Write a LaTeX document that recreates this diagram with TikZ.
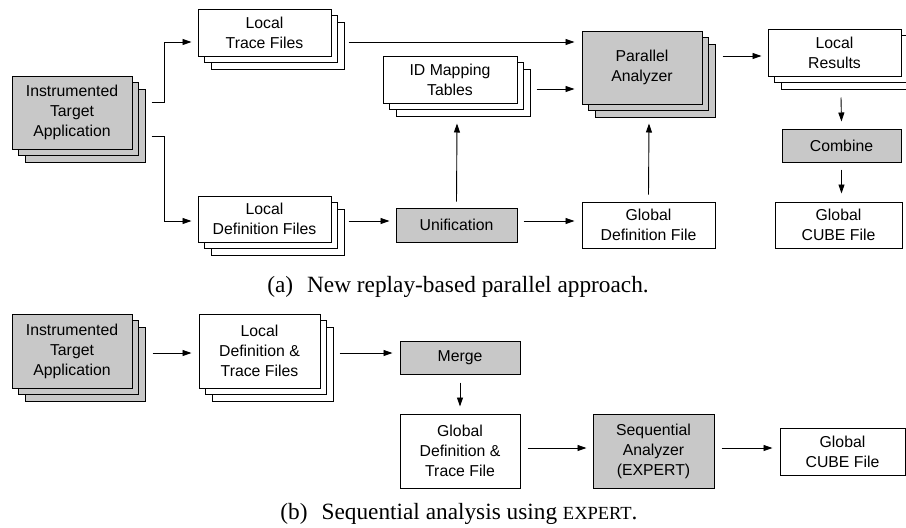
\documentclass[tikz,border=0pt]{standalone}
\usepackage{fontspec}
\setmainfont{Liberation Serif}
\setsansfont{Liberation Sans}
\usepackage{tikz}
\usetikzlibrary{positioning,arrows.meta,shadows}
\definecolor{boxgray}{RGB}{200,200,200}
\newcommand{\fakesc}[1]{{\fontsize{18.5}{20}\selectfont #1}}
\tikzset{
filebox/.style={draw, fill=white, line width=1pt, inner sep=0pt, align=center,
  font=\sffamily\fontsize{15.8}{20}\selectfont},
procbox/.style={filebox, fill=boxgray},
stackbox/.style={copy shadow={shadow xshift=13pt, shadow yshift=-13pt},
  copy shadow={shadow xshift=6.5pt, shadow yshift=-6.5pt}},
flow/.style={-{Triangle[length=9pt,width=6pt]}, line width=0.9pt},
caption/.style={anchor=base, font=\fontsize{23.3}{26}\selectfont}
}

\begin{document}
\begin{tikzpicture}[x=1pt,y=-1pt]
\useasboundingbox (0,0) rectangle (906,528);
% (a) replay-based parallel approach
\node[procbox,stackbox,minimum width=120pt,minimum height=73pt] (app) at (72,112.5) {Instrumented\\Target\\Application};
\node[filebox,stackbox,minimum width=133pt,minimum height=47pt] (trace) at (264.5,32.5) {Local\\Trace Files};
\node[filebox,stackbox,minimum width=133pt,minimum height=46pt] (ldef) at (264.5,219) {Local\\Definition Files};
\node[filebox,stackbox,minimum width=134pt,minimum height=47pt] (idmap) at (450,79.5) {ID Mapping\\Tables};
\node[procbox,minimum width=121pt,minimum height=34pt] (unif) at (456.5,225) {Unification};
\node[procbox,stackbox,minimum width=120pt,minimum height=73pt] (par) at (642,67.5) {Parallel\\Analyzer};
\node[filebox,minimum width=133pt,minimum height=46pt] (gdef) at (648.5,225) {Global\\Definition File};
\node[filebox,stackbox,minimum width=133pt,minimum height=47pt] (lres) at (834.5,52.5) {Local\\Results};
\node[procbox,minimum width=119pt,minimum height=33pt] (comb) at (841.5,145.5) {Combine};
\node[filebox,minimum width=127pt,minimum height=46pt] (gcube) at (838.5,225) {Global\\CUBE File};

\draw[flow] ([xshift=19pt,yshift=10.5pt]app.east) -- ++(13,0) |- ([xshift=-6pt,yshift=-9.5pt]trace.west);
\draw[flow] ([xshift=19pt,yshift=-23.5pt]app.east) -- ++(13,0) |- ([xshift=-6pt,yshift=-2pt]ldef.west);
\draw[flow] ([xshift=17pt,yshift=-9.5pt]trace.east) -- ([xshift=-7pt,yshift=25.5pt]par.west);
\draw[flow] ([xshift=19pt,yshift=-9.5pt]idmap.east) -- ([xshift=-7pt,yshift=-21.5pt]par.west);
\draw[flow] ([xshift=17pt,yshift=-2pt]ldef.east) -- ([xshift=-6pt,yshift=4pt]unif.west);
\draw[flow] ([yshift=6pt]unif.north) -- ([xshift=7pt,yshift=-20pt]idmap.south);
\draw[flow] ([xshift=6pt,yshift=4pt]unif.east) -- ([xshift=-7pt,yshift=4pt]gdef.west);
\draw[flow] ([yshift=7pt]gdef.north) -- ([xshift=7pt,yshift=-19pt]par.south);
\draw[flow] ([xshift=20pt,yshift=11.5pt]par.east) -- ([xshift=-6pt,yshift=-3.5pt]lres.west);
\draw[flow] ([xshift=6.5pt,yshift=-21pt]lres.south) -- ([yshift=7pt]comb.north);
\draw[flow] ([yshift=-7pt]comb.south) -- ([xshift=3pt,yshift=8pt]gcube.north);

\node[caption] (capa) at (458,292) {(a)\hspace{0.6em}New replay-based parallel approach.};

% (b) sequential analysis
\node[procbox,stackbox,minimum width=120pt,minimum height=74pt] (app2) at (72,351) {Instrumented\\Target\\Application};
\node[filebox,stackbox,minimum width=121pt,minimum height=74pt] (ldt) at (259.5,351) {Local\\Definition \&\\Trace Files};
\node[procbox,minimum width=120pt,minimum height=33pt] (merge) at (460,357.5) {Merge};
\node[filebox,minimum width=120pt,minimum height=74pt] (gdt) at (460,451) {Global\\Definition \&\\Trace File};
\node[procbox,minimum width=121pt,minimum height=74pt] (seq) at (653.5,451) {Sequential\\Analyzer\\(EXPERT)};
\node[filebox,minimum width=125pt,minimum height=47pt] (gcube2) at (842.5,451.5) {Global\\CUBE File};

\draw[flow] ([xshift=20pt,yshift=-2pt]app2.east) -- ([xshift=-7pt,yshift=-2pt]ldt.west);
\draw[flow] ([xshift=19pt,yshift=-2pt]ldt.east) -- ([xshift=-7pt,yshift=4.5pt]merge.west);
\draw[flow] ([yshift=-8pt]merge.south) -- ([yshift=7pt]gdt.north);
\draw[flow] ([xshift=7pt,yshift=3pt]gdt.east) -- ([xshift=-6pt,yshift=3pt]seq.west);
\draw[flow] ([xshift=7pt,yshift=3pt]seq.east) -- ([xshift=-7pt,yshift=3.5pt]gcube2.west);

\node[caption] (capb) at (459,519) {(b)\hspace{0.6em}Sequential analysis using \fakesc{EXPERT}.};
\end{tikzpicture}
\end{document}
